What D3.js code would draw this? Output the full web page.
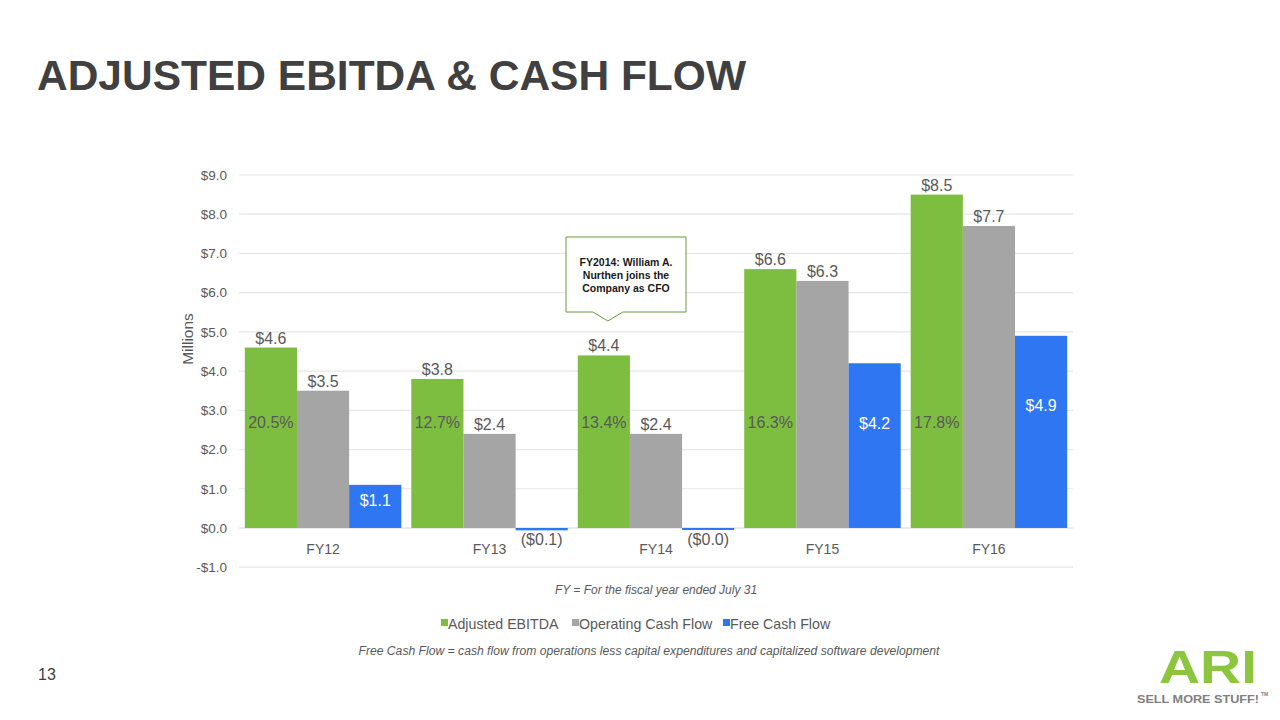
<!DOCTYPE html>
<html><head><meta charset="utf-8">
<script src="https://cdn.jsdelivr.net/npm/d3@7"></script>
<style>body{margin:0;background:#fff}svg{display:block}</style>
</head><body>
<svg id="c" width="1280" height="720"></svg>
<script>
const categories = ["FY12","FY13","FY14","FY15","FY16"];
const seriesNames = ["Adjusted EBITDA","Operating Cash Flow","Free Cash Flow"];
const ebitda = [4.6, 3.8, 4.4, 6.6, 8.5];
const operatingCF = [3.5, 2.4, 2.4, 6.3, 7.7];
const freeCF = [1.1, -0.06, -0.03, 4.2, 4.9];
const ebitdaMargin = ["20.5%","12.7%","13.4%","16.3%","17.8%"];
const yTicks = [-1,0,1,2,3,4,5,6,7,8,9];
const colors = ["#7dbd3f","#a5a5a5","#2f77f2"];

const svg = d3.select("#c");
const font = "'Liberation Sans', Arial, sans-serif";
const txt = "#595959";

// Title
svg.append("text").attr("x",37).attr("y",90).attr("font-family",font).attr("font-weight","bold")
  .attr("font-size",43).attr("fill","#404040").attr("textLength",709).attr("lengthAdjust","spacingAndGlyphs")
  .text("ADJUSTED EBITDA & CASH FLOW");

const x0 = d3.scaleBand().domain(categories).range([239,1073]).paddingInner(0.06).paddingOuter(0.035);
const x1 = d3.scaleBand().domain(seriesNames).range([0,x0.bandwidth()]).padding(0);
const y = d3.scaleLinear().domain([-1,9]).range([567.2,175]);

// grid
svg.append("g").selectAll("line").data(yTicks).join("line")
  .attr("x1",239).attr("x2",1073).attr("y1",d=>y(d)).attr("y2",d=>y(d))
  .attr("stroke",d=>d===0?"#d9d9d9":"#e6e6e6").attr("stroke-width",1.2);

// y axis labels
const yAxis = d3.axisLeft(y).tickValues(yTicks).tickSize(0).tickPadding(0)
  .tickFormat(d=>(d<0?"-$":"$")+Math.abs(d).toFixed(1));
const ga = svg.append("g").attr("transform","translate(227,0)").call(yAxis);
ga.select(".domain").remove();
ga.selectAll("text").attr("font-family",font).attr("font-size",13.5).attr("fill",txt);

svg.append("text").attr("transform","translate(193,339) rotate(-90)").attr("text-anchor","middle")
  .attr("font-family",font).attr("font-size",15.5).attr("fill",txt).text("Millions");

const data = categories.map((c,i)=>({c, vals:[ebitda[i],operatingCF[i],freeCF[i]], margin:ebitdaMargin[i]}));

const groups = svg.append("g").selectAll("g").data(data).join("g")
  .attr("transform",d=>`translate(${x0(d.c)},0)`);

groups.selectAll("rect").data(d=>d.vals.map((v,k)=>({v,k}))).join("rect")
  .attr("x",d=>x1(seriesNames[d.k])).attr("width",x1.bandwidth())
  .attr("y",d=>y(Math.max(0,d.v))).attr("height",d=>Math.max(Math.abs(y(d.v)-y(0)),2))
  .attr("fill",d=>colors[d.k]);

// category labels
groups.append("text").attr("x",x0.bandwidth()/2).attr("y",y(0)+26).attr("text-anchor","middle")
  .attr("font-family",font).attr("font-size",14).attr("fill",txt).text(d=>d.c);

const fmt = v => { const s = "$"+Math.abs(v).toFixed(1); return v<0?"("+s+")":s; };

// value labels
groups.selectAll("text.val").data(d=>d.vals.map((v,k)=>({v,k}))).join("text").attr("class","val")
  .attr("x",d=>x1(seriesNames[d.k])+x1.bandwidth()/2)
  .attr("y",d=>{
    if(d.v<0) return y(0)+17;
    if(d.k===2) return y(d.v*0.64)+6;
    return y(d.v)-4;
  })
  .attr("text-anchor","middle").attr("font-family",font).attr("font-size",16)
  .attr("fill",d=>(d.k===2&&d.v>0)?"#ffffff":txt).text(d=>fmt(d.v));

// margin labels inside EBITDA bars
groups.append("text").attr("x",x1(seriesNames[0])+x1.bandwidth()/2).attr("y",y(2.7)+6)
  .attr("text-anchor","middle").attr("font-family",font).attr("font-size",16).attr("fill",txt)
  .text(d=>d.margin);

// callout
const cx = 566, cy = 237, cw = 120, ch = 75;
const tipX = x0("FY14")+x1("Adjusted EBITDA")+x1.bandwidth()/2 + 4;
svg.append("path")
  .attr("d",`M${cx},${cy}H${cx+cw}V${cy+ch}H${tipX+15}L${tipX},${cy+ch+9}L${tipX-15},${cy+ch}H${cx}Z`)
  .attr("fill","#fff").attr("stroke","#6a9a3a").attr("stroke-width",1);
["FY2014: William A.","Nurthen joins the","Company as CFO"].forEach((t,i)=>{
  svg.append("text").attr("x",cx+cw/2).attr("y",cy+29+i*13).attr("text-anchor","middle")
    .attr("font-family",font).attr("font-weight","bold").attr("font-size",10.5).attr("fill","#1a1a1a").text(t);
});

// footnote
svg.append("text").attr("x",656).attr("y",594).attr("text-anchor","middle").attr("font-family",font)
  .attr("font-style","italic").attr("font-size",12).attr("fill",txt).text("FY = For the fiscal year ended July 31");

// legend
const legendX = [441, 572, 723];
const lg = svg.append("g").selectAll("g").data(seriesNames).join("g")
  .attr("transform",(d,i)=>`translate(${legendX[i]},624)`);
lg.append("rect").attr("x",0).attr("y",-5).attr("width",7).attr("height",7).attr("fill",(d,i)=>colors[i]);
lg.append("text").attr("x",7).attr("y",5).attr("font-family",font).attr("font-size",14.2).attr("fill",txt).text(d=>d);

svg.append("text").attr("x",649).attr("y",655).attr("text-anchor","middle").attr("font-family",font)
  .attr("font-style","italic").attr("font-size",12).attr("fill",txt).attr("textLength",581)
  .attr("lengthAdjust","spacingAndGlyphs")
  .text("Free Cash Flow =  cash flow from operations less capital expenditures and capitalized software development");

// page number
svg.append("text").attr("x",38).attr("y",680).attr("font-family",font).attr("font-size",16).attr("fill","#404040").text("13");

// logo
svg.append("text").attr("x",1208).attr("y",683).attr("text-anchor","middle").attr("font-family",font)
  .attr("font-weight","bold").attr("font-size",46).attr("fill","#8cc63f").attr("textLength",98)
  .attr("lengthAdjust","spacingAndGlyphs").text("ARI");
svg.append("text").attr("x",1137).attr("y",703).attr("font-family",font).attr("font-weight","bold")
  .attr("font-size",11.5).attr("fill","#808080").attr("textLength",122).attr("lengthAdjust","spacingAndGlyphs")
  .text("SELL MORE STUFF!");
svg.append("text").attr("x",1261).attr("y",696).attr("font-family",font).attr("font-weight","bold")
  .attr("font-size",5).attr("fill","#808080").text("TM");
</script>
</body></html>
